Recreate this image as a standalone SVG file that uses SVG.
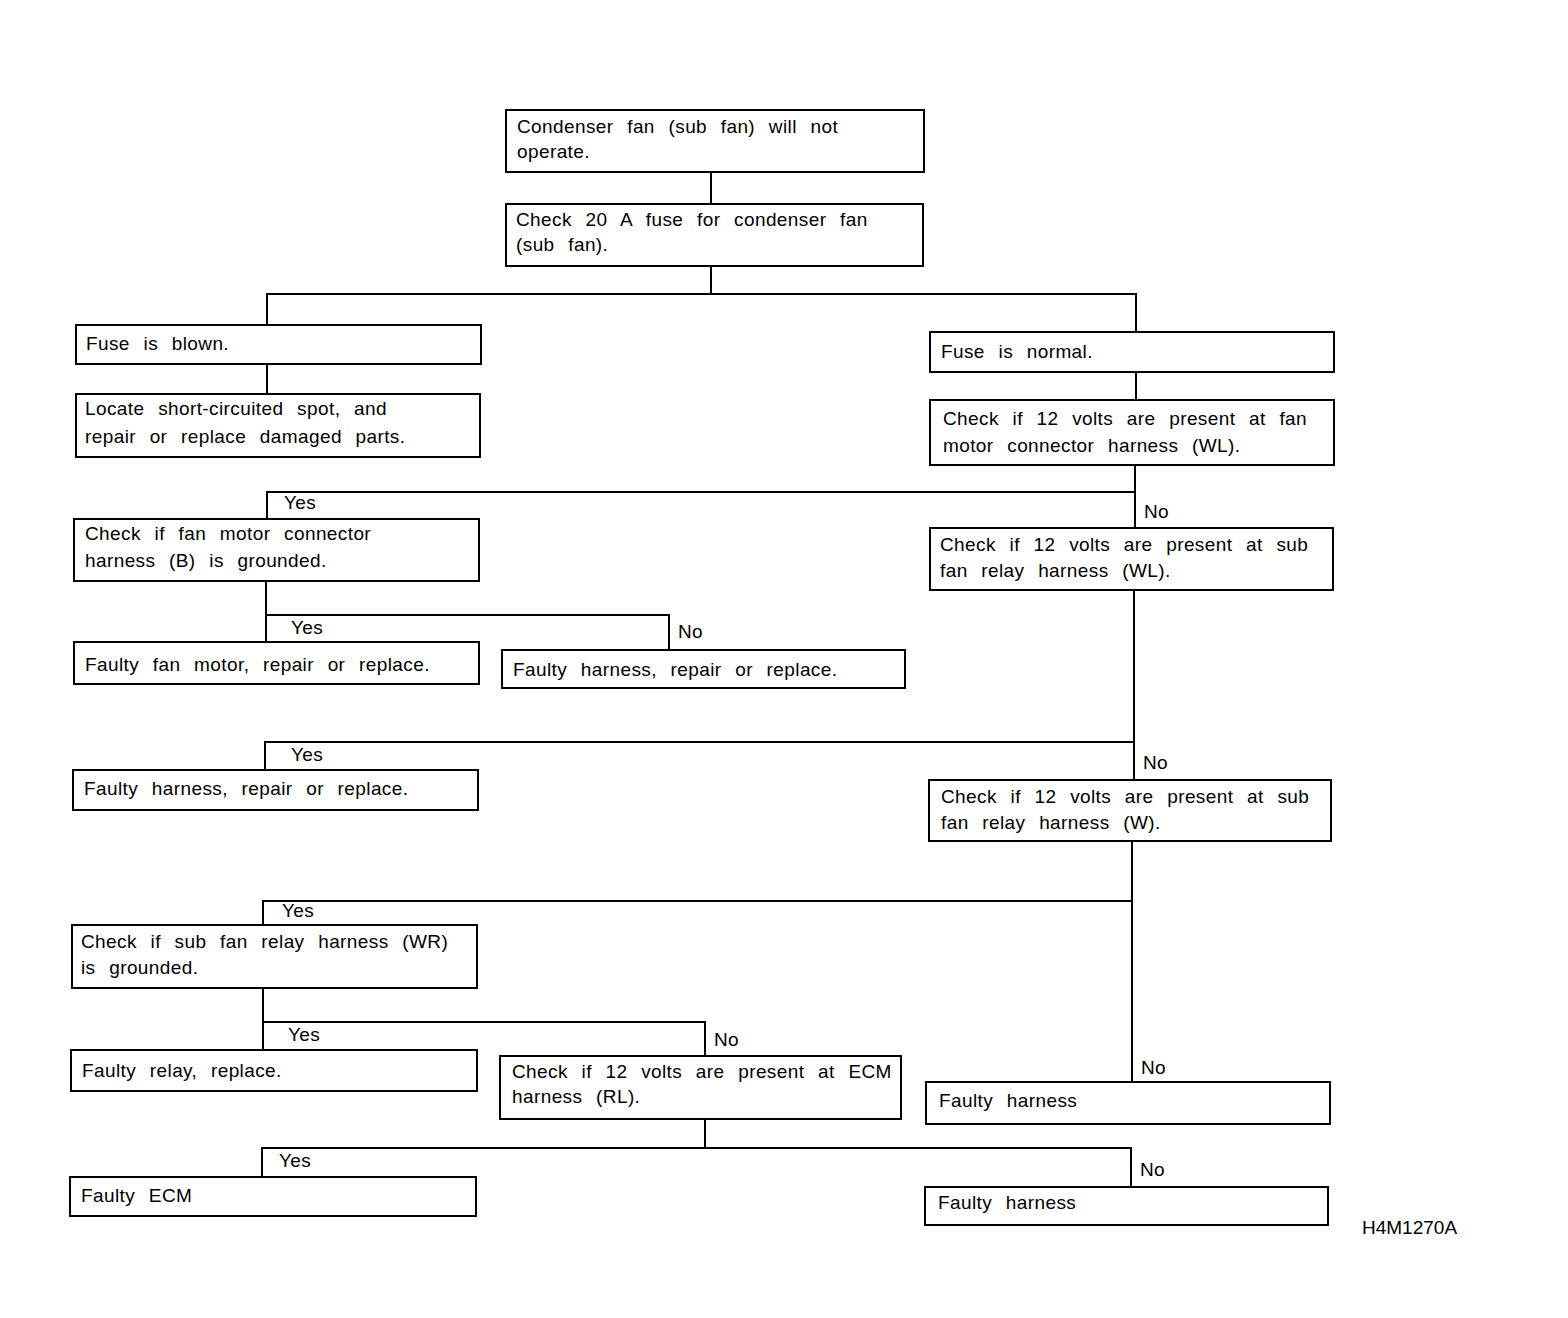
<svg xmlns="http://www.w3.org/2000/svg" width="1568" height="1318" viewBox="0 0 1568 1318">
<style>
rect.n{fill:#fff;stroke:#000;stroke-width:2}
text{font-family:"Liberation Sans",Arial,sans-serif;font-size:19px;fill:#000;word-spacing:8px;letter-spacing:0.4px}
.c path{fill:none;stroke:#000;stroke-width:2}
</style>
<rect width="1568" height="1318" fill="#fff"/>
<g class="c" id="connectors">
<path d="M711 172V204"/>
<path d="M711 266V294M267 325V294H1136V332"/>
<path d="M267 364V394"/>
<path d="M1136 372V400"/>
<path d="M1135 465V528M1135 492H267V519"/>
<path d="M266 581V642M266 615H669V650"/>
<path d="M1134 590V780M1134 742H265V770"/>
<path d="M1132 841V1082M1132 901H263V925"/>
<path d="M263 988V1050M263 1022H705V1056"/>
<path d="M705 1119V1148M262 1177V1148H1131V1187"/>
</g>
<g id="labels">
<text x="284" y="509">Yes</text>
<text x="1144" y="518">No</text>
<text x="291" y="634">Yes</text>
<text x="678" y="638">No</text>
<text x="291" y="761">Yes</text>
<text x="1143" y="769">No</text>
<text x="282" y="917">Yes</text>
<text x="1141" y="1074">No</text>
<text x="288" y="1041">Yes</text>
<text x="714" y="1046">No</text>
<text x="279" y="1167">Yes</text>
<text x="1140" y="1176">No</text>
</g>
<g id="n1"><rect class="n" x="506" y="110" width="418" height="62"/><text x="517" y="133">Condenser fan (sub fan) will not</text><text x="517" y="158">operate.</text></g>
<g id="n2"><rect class="n" x="506" y="204" width="417" height="62"/><text x="516" y="226">Check 20 A fuse for condenser fan</text><text x="516" y="251">(sub fan).</text></g>
<g id="n3"><rect class="n" x="76" y="325" width="405" height="39"/><text x="86" y="350">Fuse is blown.</text></g>
<g id="n4"><rect class="n" x="76" y="394" width="404" height="63"/><text x="85" y="415">Locate short-circuited spot, and</text><text x="85" y="443">repair or replace damaged parts.</text></g>
<g id="n5"><rect class="n" x="930" y="332" width="404" height="40"/><text x="941" y="358">Fuse is normal.</text></g>
<g id="n6"><rect class="n" x="930" y="400" width="404" height="65"/><text x="943" y="425">Check if 12 volts are present at fan</text><text x="943" y="452">motor connector harness (WL).</text></g>
<g id="n7"><rect class="n" x="74" y="519" width="405" height="62"/><text x="85" y="540">Check if fan motor connector</text><text x="85" y="567">harness (B) is grounded.</text></g>
<g id="n8"><rect class="n" x="930" y="528" width="403" height="62"/><text x="940" y="551">Check if 12 volts are present at sub</text><text x="940" y="577">fan relay harness (WL).</text></g>
<g id="n9"><rect class="n" x="74" y="642" width="405" height="42"/><text x="85" y="671">Faulty fan motor, repair or replace.</text></g>
<g id="n10"><rect class="n" x="502" y="650" width="403" height="38"/><text x="513" y="676">Faulty harness, repair or replace.</text></g>
<g id="n11"><rect class="n" x="73" y="770" width="405" height="40"/><text x="84" y="795">Faulty harness, repair or replace.</text></g>
<g id="n12"><rect class="n" x="929" y="780" width="402" height="61"/><text x="941" y="803">Check if 12 volts are present at sub</text><text x="941" y="829">fan relay harness (W).</text></g>
<g id="n13"><rect class="n" x="72" y="925" width="405" height="63"/><text x="81" y="948">Check if sub fan relay harness (WR)</text><text x="81" y="974">is grounded.</text></g>
<g id="n14"><rect class="n" x="926" y="1082" width="404" height="42"/><text x="939" y="1107">Faulty harness</text></g>
<g id="n15"><rect class="n" x="71" y="1050" width="406" height="41"/><text x="82" y="1077">Faulty relay, replace.</text></g>
<g id="n16"><rect class="n" x="500" y="1056" width="401" height="63"/><text x="512" y="1078">Check if 12 volts are present at ECM</text><text x="512" y="1103">harness (RL).</text></g>
<g id="n17"><rect class="n" x="70" y="1177" width="406" height="39"/><text x="81" y="1202">Faulty ECM</text></g>
<g id="n18"><rect class="n" x="925" y="1187" width="403" height="38"/><text x="938" y="1209">Faulty harness</text></g>
<text x="1362" y="1234" style="word-spacing:0;letter-spacing:0">H4M1270A</text>
</svg>
